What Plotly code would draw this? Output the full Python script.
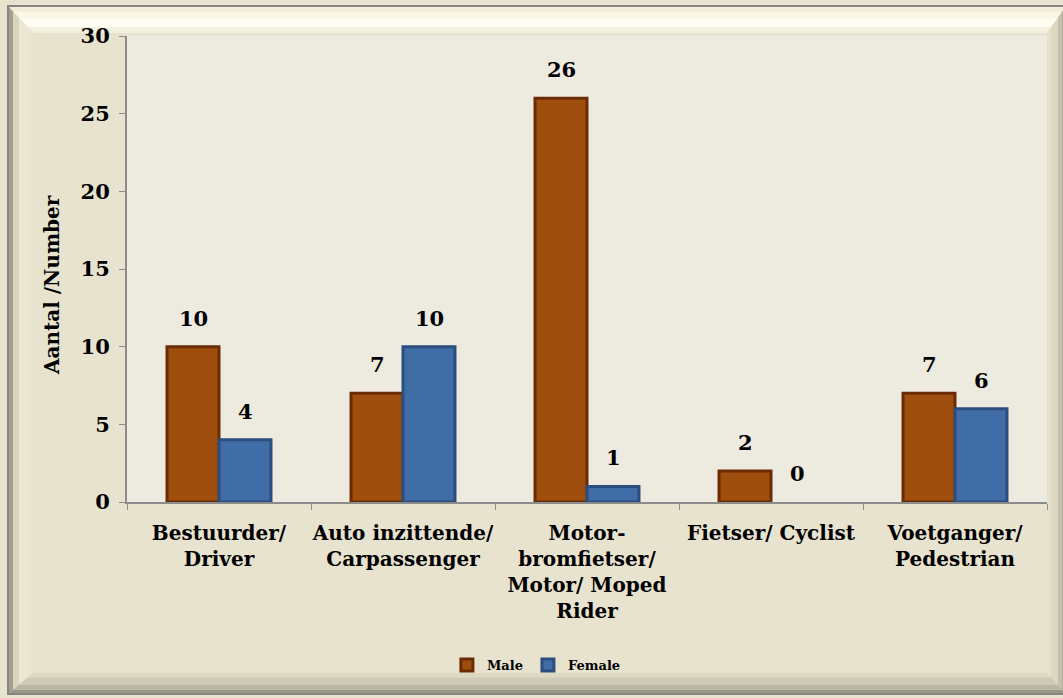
import plotly.graph_objects as go

categories = ["Bestuurder/<br>Driver", "Auto inzittende/<br>Carpassenger",
              "Motor-<br>bromfietser/<br>Motor/ Moped<br>Rider",
              "Fietser/ Cyclist", "Voetganger/<br>Pedestrian"]
male = [10, 7, 26, 2, 7]
female = [4, 10, 1, 0, 6]

FONT = "DejaVu Serif"
W, H = 1063, 698
L, R, T, B = 127, 16, 36, 196
pw, ph = W - L - R, H - T - B

fig = go.Figure()
fig.add_trace(go.Bar(x=categories, y=male, name="<b>Male</b>",
                     marker=dict(color="#A04E0D", line=dict(color="#6A2C06", width=3))))
fig.add_trace(go.Bar(x=categories, y=female, name="<b>Female</b>",
                     marker=dict(color="#416DA6",
                                 line=dict(color="#2C4E7E", width=[3 if v else 0 for v in female]))))

# value labels above the bars
for vals, shift in ((male, -26), (female, 26)):
    for c, v in zip(categories, vals):
        fig.add_annotation(x=c, y=v, text=f"<b>{v}</b>", showarrow=False,
                           xshift=shift, yshift=14, yanchor="bottom",
                           font=dict(family=FONT, size=21, color="black"))

# y axis title
fig.add_annotation(x=0, y=0.5, xref="paper", yref="paper", text="<b>Aantal /Number</b>",
                   showarrow=False, textangle=-90, xanchor="center", yanchor="middle",
                   xshift=-75, yshift=-16, font=dict(family=FONT, size=20, color="black"))


def px2paper(px, py):
    return f"{(px - L) / pw:.5f},{(H - B - py) / ph:.5f}"


def poly(pts, color):
    path = "M " + " L ".join(px2paper(x, y) for x, y in pts) + " Z"
    return dict(type="path", path=path, xref="paper", yref="paper",
                fillcolor=color, line=dict(width=0), layer="below")


# bevelled frame, outer edge / inner edge
ox0, oy0, ox1, oy1 = 8, 6, 1066, 694
ix0, iy0, ix1, iy1 = 33, 33, 1047, 673


def ring(a, b, col_top, col_left, col_right, col_bottom):
    def lerp(o, i, t):
        return o + (i - o) * t
    x0a, y0a, x1a, y1a = lerp(ox0, ix0, a), lerp(oy0, iy0, a), lerp(ox1, ix1, a), lerp(oy1, iy1, a)
    x0b, y0b, x1b, y1b = lerp(ox0, ix0, b), lerp(oy0, iy0, b), lerp(ox1, ix1, b), lerp(oy1, iy1, b)
    return [
        poly([(x0a, y0a), (x1a, y0a), (x1b, y0b), (x0b, y0b)], col_top),
        poly([(x0a, y0a), (x0b, y0b), (x0b, y1b), (x0a, y1a)], col_left),
        poly([(x1a, y0a), (x1a, y1a), (x1b, y1b), (x1b, y0b)], col_right),
        poly([(x0a, y1a), (x0b, y1b), (x1b, y1b), (x1a, y1a)], col_bottom),
    ]


shapes = []
shapes += ring(0.0, 0.2, "#F1EDD9", "#A3A08F", "#9C998A", "#9A9787")
shapes += ring(0.2, 0.45, "#FAF7E6", "#D9D4BE", "#C4C0AB", "#B9B5A2")
shapes += ring(0.45, 0.8, "#FFFDF1", "#ECE7D1", "#DCD7C1", "#CFCAB5")
shapes += ring(0.8, 1.0, "#F4F0DE", "#EAE5CF", "#E5E0CA", "#DDD8C2")
shapes.append(dict(type="rect", xref="paper", yref="paper",
                   x0=(ox0 - L) / pw, x1=(ox1 - L) / pw,
                   y0=(H - B - oy1) / ph, y1=(H - B - oy0) / ph,
                   line=dict(color="#858585", width=2), layer="below"))

fig.update_layout(
    width=W, height=H,
    margin=dict(l=L, r=R, t=T, b=B),
    paper_bgcolor="#E8E3CF",
    plot_bgcolor="#EDEADF",
    barmode="group", bargap=0.435, bargroupgap=0,
    font=dict(family=FONT, color="black"),
    shapes=shapes,
    showlegend=True,
    legend=dict(orientation="h", x=0.445, xanchor="center", y=-0.35, yanchor="middle",
                font=dict(family=FONT, size=13, color="black"),
                bgcolor="rgba(0,0,0,0)", itemwidth=30, tracegroupgap=0),
    yaxis=dict(range=[0, 30], showgrid=False, zeroline=False, automargin=False,
               showline=True, linecolor="#8C8C8C", linewidth=2,
               ticks="outside", ticklen=6, tickcolor="#8C8C8C", ticklabelstandoff=5,
               tickvals=list(range(0, 31, 5)),
               ticktext=[f"<b>{v}</b>" for v in range(0, 31, 5)],
               tickfont=dict(family=FONT, size=21, color="black")),
    xaxis=dict(showgrid=False, showline=True, linecolor="#8C8C8C", linewidth=2,
               automargin=False, tickangle=0, ticklabelstandoff=12,
               ticks="outside", ticklen=6, tickcolor="#8C8C8C", tickson="boundaries",
               tickvals=categories, ticktext=[f"<b>{c}</b>" for c in categories],
               tickfont=dict(family=FONT, size=20, color="black")),
)

fig.write_html("out.html", config={"displayModeBar": False},
               post_script="document.body.style.margin='0';")
